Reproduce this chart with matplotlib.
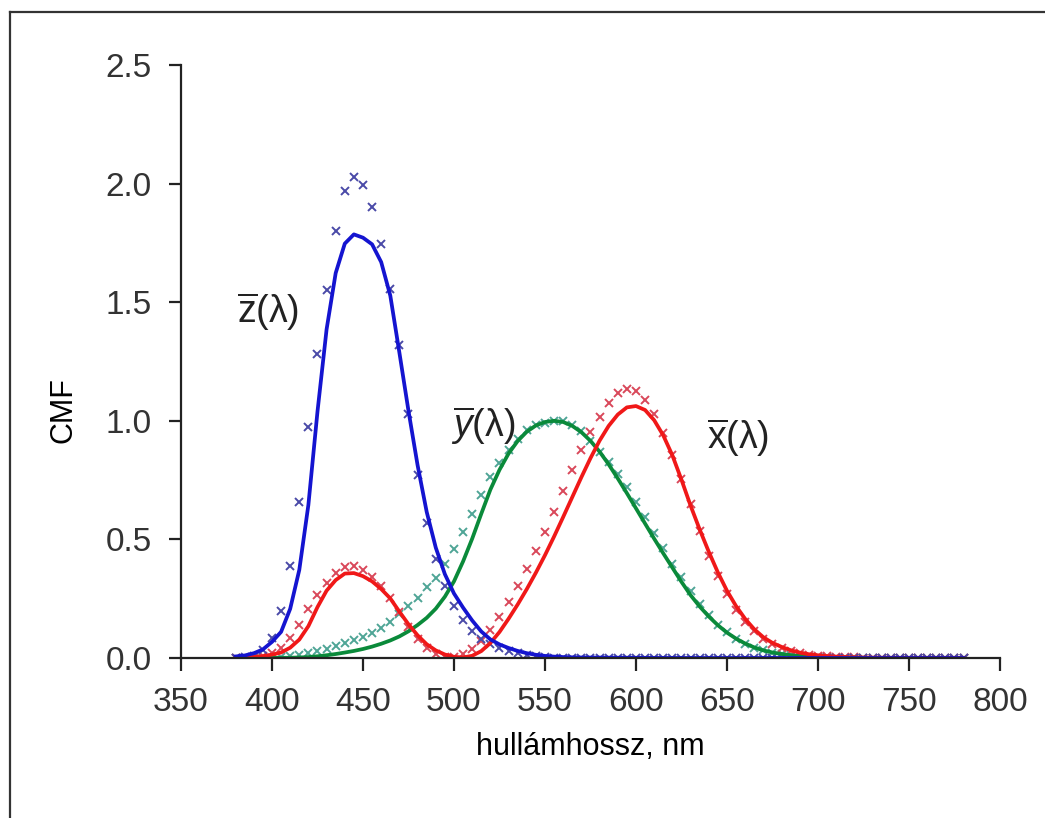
import matplotlib.pyplot as plt
from matplotlib.lines import Line2D

plt.rcParams['font.family'] = ['Liberation Sans', 'DejaVu Sans']
plt.rcParams['mathtext.fontset'] = 'custom'
plt.rcParams['mathtext.rm'] = 'Liberation Sans'
plt.rcParams['mathtext.it'] = 'Liberation Sans:italic'

# hullámhossz (nm), 5 nm lépés
wl = list(range(380, 785, 5))

# folytonos görbék (CIE 1931, 2°)
x_2 = [0.0014, 0.0022, 0.0042, 0.0077, 0.0143, 0.0232, 0.0435, 0.0776, 0.1344, 0.2148,
       0.2839, 0.3285, 0.3560, 0.3580, 0.3450, 0.3230, 0.2908, 0.2511, 0.1954, 0.1421,
       0.0956, 0.0580, 0.0320, 0.0147, 0.0049, 0.0024, 0.0093, 0.0291, 0.0633, 0.1096,
       0.1655, 0.2257, 0.2904, 0.3597, 0.4334, 0.5121, 0.5945, 0.6784, 0.7621, 0.8425,
       0.9163, 0.9786, 1.0263, 1.0567, 1.0622, 1.0456, 1.0026, 0.9384, 0.8544, 0.7514,
       0.6424, 0.5419, 0.4479, 0.3608, 0.2835, 0.2187, 0.1649, 0.1212, 0.0874, 0.0636,
       0.0468, 0.0329, 0.0227, 0.0158, 0.0114, 0.0081, 0.0058, 0.0041, 0.0029, 0.0020,
       0.0014, 0.0010, 0.0007, 0.0005, 0.0003, 0.0002, 0.0002, 0.0001, 0.0001, 0.0001,
       0.0000]
y_2 = [0.0000, 0.0001, 0.0001, 0.0002, 0.0004, 0.0006, 0.0012, 0.0022, 0.0040, 0.0073,
       0.0116, 0.0168, 0.0230, 0.0298, 0.0380, 0.0480, 0.0600, 0.0739, 0.0910, 0.1126,
       0.1390, 0.1693, 0.2080, 0.2586, 0.3230, 0.4073, 0.5030, 0.6082, 0.7100, 0.7932,
       0.8620, 0.9149, 0.9540, 0.9803, 0.9950, 1.0000, 0.9950, 0.9786, 0.9520, 0.9154,
       0.8700, 0.8163, 0.7570, 0.6949, 0.6310, 0.5668, 0.5030, 0.4412, 0.3810, 0.3210,
       0.2650, 0.2170, 0.1750, 0.1382, 0.1070, 0.0816, 0.0610, 0.0446, 0.0320, 0.0232,
       0.0170, 0.0119, 0.0082, 0.0057, 0.0041, 0.0029, 0.0021, 0.0015, 0.0010, 0.0007,
       0.0005, 0.0004, 0.0003, 0.0002, 0.0001, 0.0001, 0.0001, 0.0000, 0.0000, 0.0000,
       0.0000]
z_2 = [0.0065, 0.0106, 0.0201, 0.0362, 0.0679, 0.1102, 0.2074, 0.3713, 0.6456, 1.0391,
       1.3856, 1.6230, 1.7471, 1.7860, 1.7721, 1.7441, 1.6692, 1.5281, 1.2876, 1.0419,
       0.8130, 0.6162, 0.4652, 0.3533, 0.2720, 0.2123, 0.1582, 0.1117, 0.0783, 0.0573,
       0.0422, 0.0298, 0.0203, 0.0134, 0.0088, 0.0058, 0.0039, 0.0028, 0.0021, 0.0018,
       0.0017, 0.0014, 0.0011, 0.0010, 0.0008, 0.0006, 0.0003, 0.0002, 0.0002, 0.0001,
       0.0000, 0.0000, 0.0000, 0.0000, 0.0000, 0.0000, 0.0000, 0.0000, 0.0000, 0.0000,
       0.0000, 0.0000, 0.0000, 0.0000, 0.0000, 0.0000, 0.0000, 0.0000, 0.0000, 0.0000,
       0.0000, 0.0000, 0.0000, 0.0000, 0.0000, 0.0000, 0.0000, 0.0000, 0.0000, 0.0000,
       0.0000]

# x jelölők (CIE 1964, 10°)
x_10 = [0.0002, 0.0007, 0.0024, 0.0072, 0.0191, 0.0434, 0.0847, 0.1406, 0.2045, 0.2647,
        0.3147, 0.3577, 0.3837, 0.3867, 0.3707, 0.3430, 0.3023, 0.2541, 0.1956, 0.1323,
        0.0805, 0.0411, 0.0162, 0.0051, 0.0038, 0.0154, 0.0375, 0.0714, 0.1177, 0.1730,
        0.2365, 0.3042, 0.3768, 0.4516, 0.5298, 0.6161, 0.7052, 0.7938, 0.8787, 0.9512,
        1.0142, 1.0743, 1.1185, 1.1343, 1.1240, 1.0891, 1.0305, 0.9507, 0.8563, 0.7549,
        0.6475, 0.5351, 0.4316, 0.3437, 0.2683, 0.2043, 0.1526, 0.1122, 0.0813, 0.0579,
        0.0409, 0.0286, 0.0199, 0.0138, 0.0096, 0.0066, 0.0046, 0.0031, 0.0022, 0.0015,
        0.0010, 0.0007, 0.0005, 0.0004, 0.0003, 0.0002, 0.0001, 0.0001, 0.0001, 0.0000,
        0.0000]
y_10 = [0.0000, 0.0001, 0.0003, 0.0008, 0.0020, 0.0045, 0.0088, 0.0145, 0.0214, 0.0295,
        0.0387, 0.0496, 0.0621, 0.0747, 0.0895, 0.1063, 0.1282, 0.1528, 0.1852, 0.2199,
        0.2536, 0.2977, 0.3391, 0.3954, 0.4608, 0.5314, 0.6067, 0.6857, 0.7618, 0.8233,
        0.8752, 0.9238, 0.9620, 0.9822, 0.9918, 0.9991, 0.9973, 0.9824, 0.9556, 0.9152,
        0.8689, 0.8256, 0.7774, 0.7204, 0.6583, 0.5939, 0.5280, 0.4618, 0.3981, 0.3396,
        0.2835, 0.2283, 0.1798, 0.1402, 0.1076, 0.0812, 0.0603, 0.0441, 0.0318, 0.0226,
        0.0159, 0.0111, 0.0077, 0.0054, 0.0037, 0.0026, 0.0018, 0.0012, 0.0008, 0.0006,
        0.0004, 0.0003, 0.0002, 0.0001, 0.0001, 0.0001, 0.0000, 0.0000, 0.0000, 0.0000,
        0.0000]
z_10 = [0.0007, 0.0029, 0.0105, 0.0323, 0.0860, 0.1971, 0.3894, 0.6568, 0.9725, 1.2825,
        1.5535, 1.7985, 1.9673, 2.0273, 1.9948, 1.9007, 1.7454, 1.5549, 1.3176, 1.0302,
        0.7721, 0.5701, 0.4153, 0.3024, 0.2185, 0.1592, 0.1120, 0.0822, 0.0607, 0.0431,
        0.0305, 0.0206, 0.0137, 0.0079, 0.0040, 0.0011, 0.0000, 0.0000, 0.0000, 0.0000,
        0.0000, 0.0000, 0.0000, 0.0000, 0.0000, 0.0000, 0.0000, 0.0000, 0.0000, 0.0000,
        0.0000, 0.0000, 0.0000, 0.0000, 0.0000, 0.0000, 0.0000, 0.0000, 0.0000, 0.0000,
        0.0000, 0.0000, 0.0000, 0.0000, 0.0000, 0.0000, 0.0000, 0.0000, 0.0000, 0.0000,
        0.0000, 0.0000, 0.0000, 0.0000, 0.0000, 0.0000, 0.0000, 0.0000, 0.0000, 0.0000,
        0.0000]

fig = plt.figure(figsize=(10.45, 8.18), dpi=100)
ax = fig.add_axes([0.1732, 0.1956, 0.7837, 0.7249])

mk = dict(marker='x', linestyle='none', markersize=6, markeredgewidth=1.4)
ax.plot(wl, y_10, color='#4fa596', **mk)
ax.plot(wl, x_10, color='#d9485a', **mk)
ax.plot(wl, z_10, color='#4a4aa8', **mk)

ax.plot(wl, y_2, color='#0a8a3a', lw=2.7)
ax.plot(wl, x_2, color='#f01818', lw=2.7)
ax.plot(wl, z_2, color='#1414d0', lw=2.7)

ax.set_xlim(350, 800)
ax.set_ylim(0, 2.5)
ax.set_xticks(range(350, 801, 50))
ax.set_yticks([0.0, 0.5, 1.0, 1.5, 2.0, 2.5])
ax.set_yticklabels(['0.0', '0.5', '1.0', '1.5', '2.0', '2.5'])

for s in ['top', 'right']:
    ax.spines[s].set_visible(False)
for s in ['left', 'bottom']:
    ax.spines[s].set_linewidth(1.6)
    ax.spines[s].set_color('#222222')
ax.tick_params(direction='out', length=9, width=1.6, color='#222222',
               labelsize=24, labelcolor='#333333', pad=12)

ax.set_xlabel('hullámhossz, nm', fontsize=22, labelpad=10)
ax.set_ylabel('CMF', fontsize=22)
ax.yaxis.set_label_coords(-0.125, 0.418)

ax.text(398, 1.46, r'$\overline{\mathrm{z}}(\mathrm{\lambda})$', fontsize=27,
        ha='center', va='center', color='#222222')
ax.text(516, 0.98, r'$\overline{y}(\mathrm{\lambda})$', fontsize=27,
        ha='center', va='center', color='#222222')
ax.text(656, 0.93, r'$\overline{\mathrm{x}}(\mathrm{\lambda})$', fontsize=27,
        ha='center', va='center', color='#222222')

# keret
fx, fy = 10 / 1045, 1 - 12 / 818
fig.add_artist(Line2D([fx, fx], [0, fy], transform=fig.transFigure, color='#333333', lw=1.6))
fig.add_artist(Line2D([fx, 1], [fy, fy], transform=fig.transFigure, color='#333333', lw=1.6))

plt.savefig('out.png', dpi=100)
